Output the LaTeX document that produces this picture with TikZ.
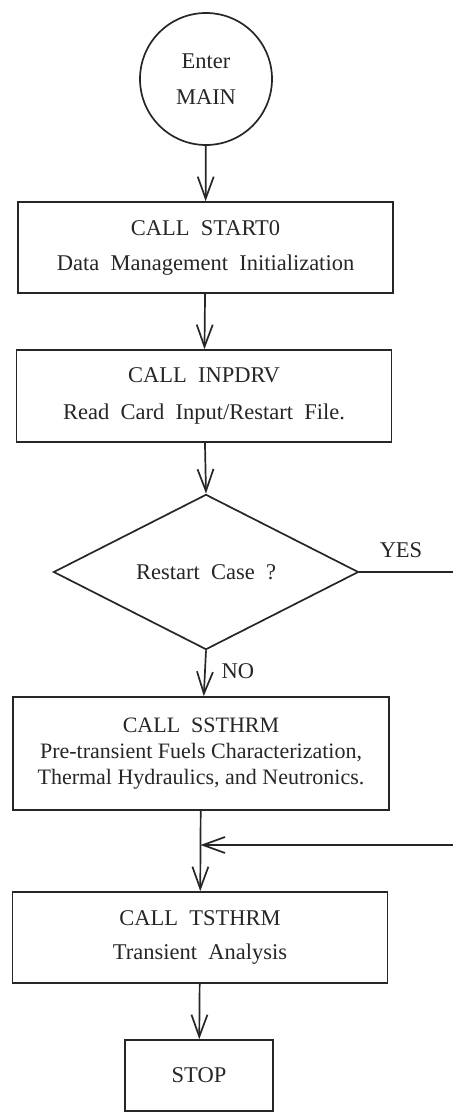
\documentclass[tikz,border=0pt]{standalone}
\usepackage{fontspec}
\setmainfont{Liberation Serif}[WordSpace=2]
\newfontfamily\plainserif{Liberation Serif}
\usetikzlibrary{arrows.meta,shapes.geometric}
\begin{document}
\begin{tikzpicture}[x=1pt,y=-1pt,
  ink/.style={draw=black!85, line width=1.7pt},
  txt/.style={text=black!85, font=\fontsize{22.5}{26}\selectfont},
  tighttxt/.style={text=black!85, font=\plainserif\fontsize{22}{26}\selectfont},
  proc/.style={ink, rectangle, minimum width=375pt, minimum height=91pt,
    inner sep=0pt, align=center},
  flow/.style={ink, -{Straight Barb[length=22pt,width=16pt]}}
]
\useasboundingbox (0,0) rectangle (453,1113);

% terminal and process boxes
\node[ink, txt, circle, minimum size=132pt, inner sep=0pt, align=center]
  (enter) at (206,79) {Enter\\[10pt]MAIN};
\node[proc, txt] (start) at (205.5,247.5)
  {CALL START0\\[9pt]Data Management Initialization};
\node[proc, txt, minimum height=92pt] (inp) at (204,396)
  {CALL INPDRV\\[11pt]Read Card Input/Restart File.};
\node[ink, txt, diamond, minimum width=305pt, minimum height=146pt,
  inner sep=0pt] (rst) at (206,572) {Restart Case ?};
\node[proc, tighttxt, minimum width=376pt, minimum height=113pt] (ss) at (201,753.5)
  {CALL\ \ SSTHRM\\Pre-transient Fuels Characterization,\\Thermal Hydraulics, and Neutronics.};
\node[proc, txt] (ts) at (200,937.5)
  {CALL TSTHRM\\[8pt]Transient Analysis};
\node[ink, txt, rectangle, minimum width=148pt, minimum height=71pt, inner sep=0pt]
  (stop) at (199,1075.5) {STOP};

% branch labels
\node[txt] (yes) at (401,550) {YES};
\node[txt, anchor=west] (no) at (218,671) {NO};

% off-page ends of the restart branch
\coordinate (yesout) at (453,572);
\coordinate (backin) at (453,845);
\coordinate (join) at (200.5,845);

% connectors
\draw[flow] (enter) -- (start);
\draw[flow] (start) -- (inp);
\draw[flow] (inp) -- (rst.north);
\draw[flow] (rst.south) -- (ss);
\draw[ink] (ss) -- (join);
\draw[flow] (join) -- (ts);
\draw[flow] (ts) -- (stop);
\draw[ink] (rst.east) -- (yesout);
\draw[flow] (backin) -- (join);
\end{tikzpicture}
\end{document}
